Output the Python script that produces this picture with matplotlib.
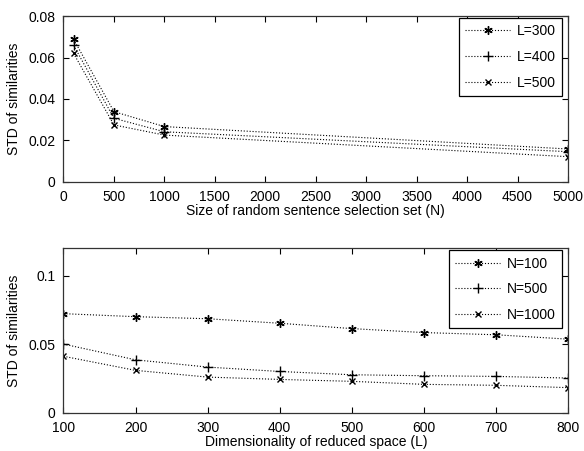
import matplotlib
matplotlib.use("Agg")
import matplotlib.pyplot as plt

plt.rcParams['font.family'] = ['Liberation Sans', 'DejaVu Sans']
plt.rcParams['font.size'] = 10

# Top panel data
N_vals = [100, 500, 1000, 5000]
L300 = [0.0688, 0.0339, 0.0267, 0.0159]
L400 = [0.0659, 0.0307, 0.0242, 0.0146]
L500 = [0.0620, 0.0275, 0.0226, 0.0122]
top_labels = ['L=300', 'L=400', 'L=500']

# Bottom panel data
L_vals = [100, 200, 300, 400, 500, 600, 700, 800]
N100 = [0.0723, 0.0701, 0.0686, 0.0653, 0.0614, 0.0585, 0.0569, 0.0537]
N500 = [0.0501, 0.0386, 0.0333, 0.0301, 0.0277, 0.0270, 0.0265, 0.0253]
N1000 = [0.0412, 0.0309, 0.0260, 0.0243, 0.0229, 0.0207, 0.0200, 0.0183]
bottom_labels = ['N=100', 'N=500', 'N=1000']

markers = [(6, 2, 0), '+', 'x']
msizes = [6, 7, 5]

fig = plt.figure(figsize=(5.84, 4.51), dpi=100)
ax1 = fig.add_axes([0.1087, 0.5965, 0.864, 0.368])
ax2 = fig.add_axes([0.1087, 0.0849, 0.864, 0.3645])

def style(ax):
    ax.tick_params(direction='in', top=True, right=True, length=4, width=0.8,
                   labelsize=10, colors='black')
    ax.tick_params(axis='x', pad=6)
    ax.tick_params(axis='y', pad=6)
    for s in ax.spines.values():
        s.set_linewidth(0.9)
        s.set_color('#333333')

def legend(ax):
    leg = ax.legend(loc='upper right', bbox_to_anchor=(0.988, 0.988),
                    handlelength=3.2, labelspacing=0.85, borderpad=0.45,
                    fancybox=False, edgecolor='black', framealpha=1,
                    handletextpad=0.5, borderaxespad=0)
    leg.get_frame().set_linewidth(0.9)

for ys, lab, m, ms in zip([L300, L400, L500], top_labels, markers, msizes):
    ax1.plot(N_vals, ys, linestyle=':', color='black', linewidth=0.8,
             marker=m, markersize=ms, markeredgewidth=1.0, label=lab)
ax1.set_xlim(0, 5000)
ax1.set_ylim(0, 0.08)
ax1.set_xticks(range(0, 5001, 500))
ax1.set_yticks([0, 0.02, 0.04, 0.06, 0.08])
ax1.set_yticklabels(['0', '0.02', '0.04', '0.06', '0.08'])
ax1.set_xlabel('Size of random sentence selection set (N)', labelpad=0)
ax1.set_ylabel('STD of similarities', labelpad=5)
style(ax1)
legend(ax1)

for ys, lab, m, ms in zip([N100, N500, N1000], bottom_labels, markers, msizes):
    ax2.plot(L_vals, ys, linestyle=':', color='black', linewidth=0.8,
             marker=m, markersize=ms, markeredgewidth=1.0, label=lab)
ax2.set_xlim(100, 800)
ax2.set_ylim(0, 0.12)
ax2.set_xticks(range(100, 801, 100))
ax2.set_yticks([0, 0.05, 0.1])
ax2.set_yticklabels(['0', '0.05', '0.1'])
ax2.set_xlabel('Dimensionality of reduced space (L)', labelpad=0)
ax2.set_ylabel('STD of similarities', labelpad=5)
style(ax2)
legend(ax2)

fig.savefig('out.png', dpi=100)
